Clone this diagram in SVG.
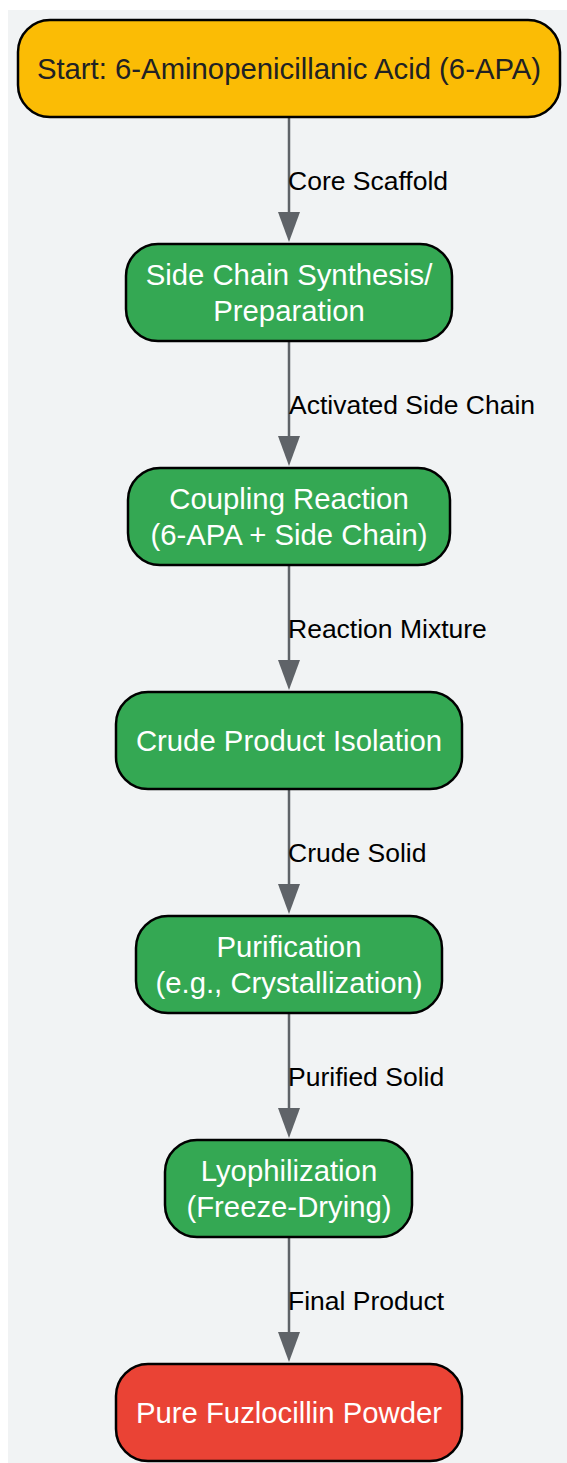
<svg xmlns="http://www.w3.org/2000/svg" width="567" height="1463" viewBox="0 0 567 1463">
<style>
.bg{fill:#F1F3F4}
.n{stroke:#000;stroke-width:2.5}
.y{fill:#FBBC05}
.g{fill:#34A853}
.r{fill:#EA4335}
.t{font-family:"Liberation Sans",Arial,sans-serif;font-size:29.3px;text-anchor:middle;fill:#fff}
.td{fill:#202124}
.e{stroke:#5F6368;stroke-width:2.5;fill:none}
.a{fill:#5F6368}
.l{font-family:"Liberation Sans",Arial,sans-serif;font-size:26.5px;fill:#000}
</style>
<rect class="bg" x="8" y="10" width="570" height="1460"/>
<g id="connectors">
<line class="e" x1="289" y1="117" x2="289" y2="214"/><path class="a" d="M278,212 L300,212 L289,242 Z"/>
<line class="e" x1="289" y1="341" x2="289" y2="438"/><path class="a" d="M278,436 L300,436 L289,466 Z"/>
<line class="e" x1="289" y1="565" x2="289" y2="662"/><path class="a" d="M278,660 L300,660 L289,690 Z"/>
<line class="e" x1="289" y1="789" x2="289" y2="886"/><path class="a" d="M278,884 L300,884 L289,914 Z"/>
<line class="e" x1="289" y1="1013" x2="289" y2="1110"/><path class="a" d="M278,1108 L300,1108 L289,1138 Z"/>
<line class="e" x1="289" y1="1237" x2="289" y2="1334"/><path class="a" d="M278,1332 L300,1332 L289,1362 Z"/>
<text class="l" x="288" y="190">Core Scaffold</text>
<text class="l" x="289" y="414">Activated Side Chain</text>
<text class="l" x="288" y="638">Reaction Mixture</text>
<text class="l" x="288" y="862">Crude Solid</text>
<text class="l" x="288" y="1086">Purified Solid</text>
<text class="l" x="288" y="1310">Final Product</text>
</g>
<g id="n1"><rect class="n y" x="18" y="20" width="542" height="97" rx="32"/><text class="t td" x="289" y="79">Start: 6-Aminopenicillanic Acid (6-APA)</text></g>
<g id="n2"><rect class="n g" x="126" y="244" width="326" height="97" rx="32"/><text class="t" x="289" y="285">Side Chain Synthesis/</text><text class="t" x="289" y="321">Preparation</text></g>
<g id="n3"><rect class="n g" x="128" y="468" width="322" height="97" rx="32"/><text class="t" x="289" y="509">Coupling Reaction</text><text class="t" x="289" y="545">(6-APA + Side Chain)</text></g>
<g id="n4"><rect class="n g" x="116" y="692" width="346" height="97" rx="32"/><text class="t" x="289" y="751">Crude Product Isolation</text></g>
<g id="n5"><rect class="n g" x="136" y="916" width="306" height="97" rx="32"/><text class="t" x="289" y="957">Purification</text><text class="t" x="289" y="993">(e.g., Crystallization)</text></g>
<g id="n6"><rect class="n g" x="165" y="1140" width="247" height="97" rx="32"/><text class="t" x="289" y="1181">Lyophilization</text><text class="t" x="289" y="1217">(Freeze-Drying)</text></g>
<g id="n7"><rect class="n r" x="116" y="1364" width="346" height="97" rx="32"/><text class="t" x="289" y="1423">Pure Fuzlocillin Powder</text></g>
</svg>
